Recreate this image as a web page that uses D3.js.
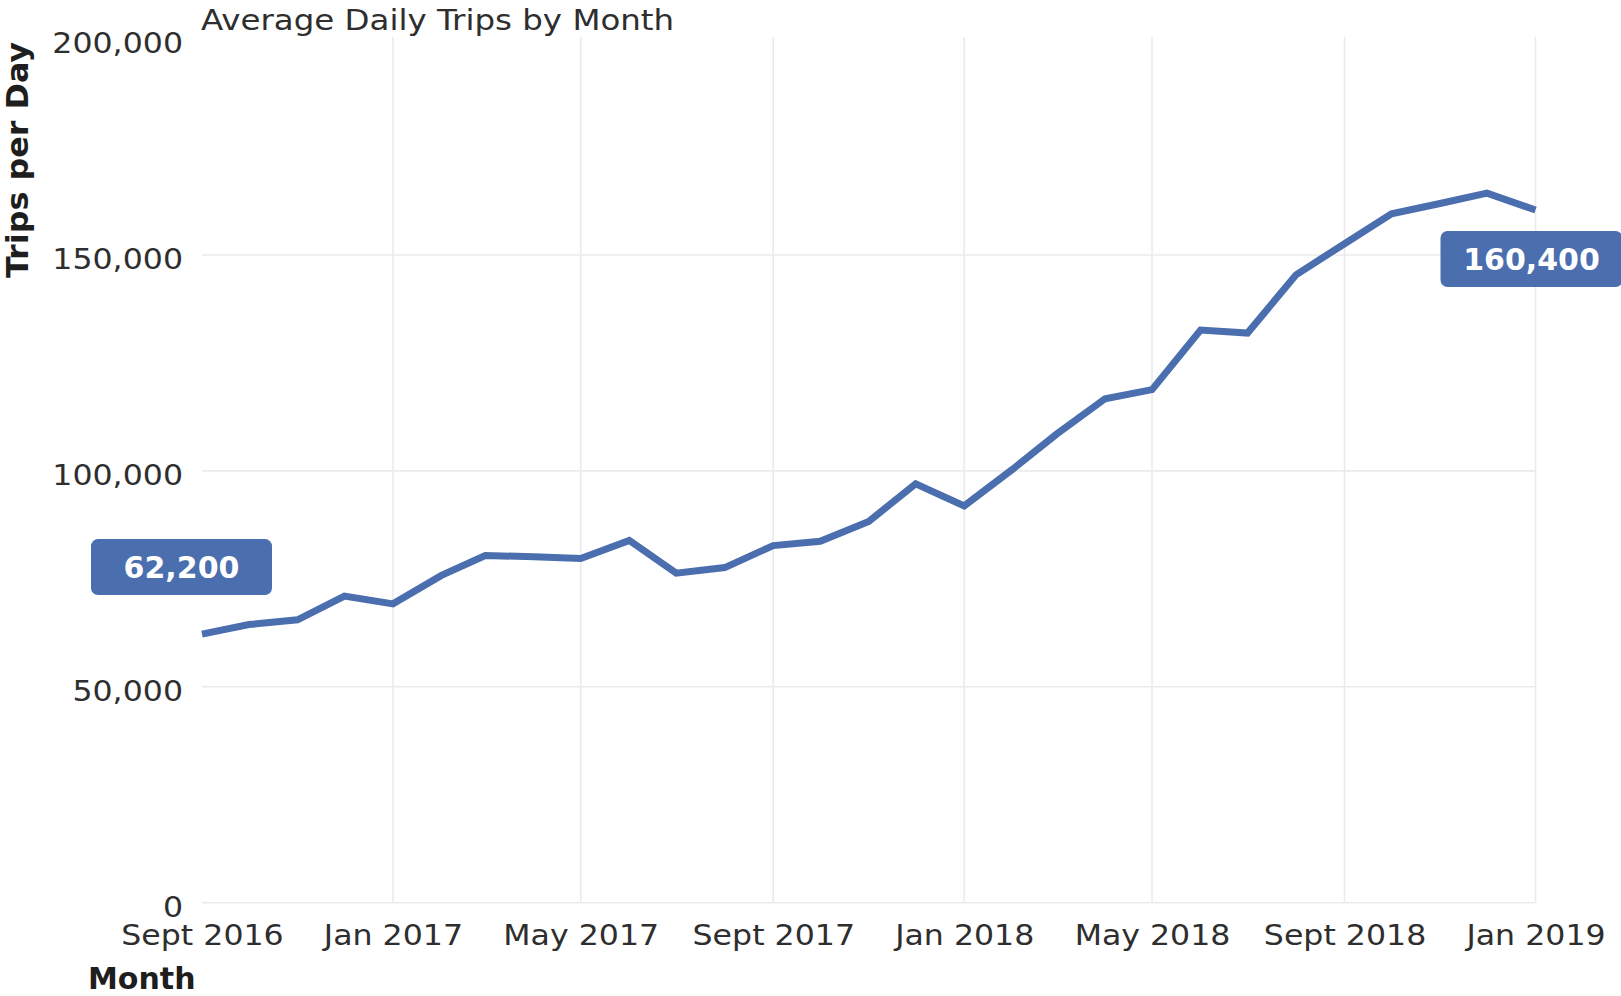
<!DOCTYPE html>
<html>
<head>
<meta charset="utf-8">
<script src="https://cdn.jsdelivr.net/npm/d3@7"></script>
<style>
  html, body { margin: 0; padding: 0; background: #fff; }
  svg { display: block; }
  text { font-family: "DejaVu Sans", sans-serif; }
</style>
</head>
<body>
<svg id="chart" width="1621" height="996"></svg>
<script>
// ---- data ----
const months = ["2016-09","2016-10","2016-11","2016-12","2017-01","2017-02","2017-03","2017-04",
  "2017-05","2017-06","2017-07","2017-08","2017-09","2017-10","2017-11","2017-12","2018-01",
  "2018-02","2018-03","2018-04","2018-05","2018-06","2018-07","2018-08","2018-09","2018-10",
  "2018-11","2018-12","2019-01"];
const tripsPerDay = [62200, 64400, 65500, 71000, 69200, 75800, 80400, 80100,
  79700, 83900, 76300, 77600, 82700, 83700, 88300, 97000, 91900,
  100400, 108500, 116700, 118800, 132600, 131900, 145400, 152600, 159500,
  161900, 164300, 160400];
const xTickMonths = ["2016-09","2017-01","2017-05","2017-09","2018-01","2018-05","2018-09","2019-01"];
const xTickLabels = ["Sept 2016","Jan 2017","May 2017","Sept 2017","Jan 2018","May 2018","Sept 2018","Jan 2019"];
const yTicks = [0, 50000, 100000, 150000, 200000];
const yTickLabels = ["0","50,000","100,000","150,000","200,000"];
const labelMonths = ["2016-09","2019-01"];
const labelValues = [62200, 160400];
const labelTexts = ["62,200","160,400"];

const title = "Average Daily Trips by Month";
const xTitle = "Month";
const yTitle = "Trips per Day";

// ---- setup ----
const parse = d3.timeParse("%Y-%m");
const BLUE = "#4a6eae";
const GRID = "#ebebeb";
const TXT = "#2e2e2e";
const SX = 1.09; // horizontal stretch of regular text

const svg = d3.select("#chart");
const mLeft = 202, mRight = 1535.5, mTop = 39, mBottom = 902.7;

const x = d3.scaleTime()
  .domain([parse(months[0]), parse(months[months.length - 1])])
  .range([mLeft, mRight]);
const y = d3.scaleLinear().domain([0, 200000]).range([mBottom, mTop]);

// gridlines
svg.append("g").selectAll("line")
  .data(xTickMonths.slice(1))
  .join("line")
  .attr("x1", d => x(parse(d))).attr("x2", d => x(parse(d)))
  .attr("y1", y(200000) - 2).attr("y2", y(0))
  .attr("stroke", GRID).attr("stroke-width", 1.6);

svg.append("g").selectAll("line")
  .data(yTicks.filter(d => d < 200000))
  .join("line")
  .attr("x1", mLeft).attr("x2", mRight)
  .attr("y1", d => y(d)).attr("y2", d => y(d))
  .attr("stroke", GRID).attr("stroke-width", 1.6);

// y axis
const yAxis = d3.axisLeft(y).tickValues(yTicks)
  .tickFormat((d, i) => yTickLabels[i]).tickSize(0);
const gy = svg.append("g").attr("transform", `translate(${mLeft},0)`).call(yAxis);
gy.select(".domain").remove();
gy.selectAll("text")
  .attr("x", 0).attr("dy", "0.47em")
  .attr("transform", `translate(-19,0) scale(${SX},1)`)
  .attr("text-anchor", "end")
  .style("font-size", "29px").style("font-family", "DejaVu Sans")
  .attr("fill", TXT);

// x axis
const xAxis = d3.axisBottom(x).tickValues(xTickMonths.map(parse))
  .tickFormat((d, i) => xTickLabels[i]).tickSize(0);
const gx = svg.append("g").attr("transform", `translate(0,${mBottom})`).call(xAxis);
gx.select(".domain").remove();
gx.selectAll("text")
  .attr("y", 0).attr("dy", 0)
  .attr("transform", `translate(0,42.5) scale(${SX},1)`)
  .style("font-size", "29px").style("font-family", "DejaVu Sans")
  .attr("fill", TXT);

// line
const line = d3.line()
  .x((d, i) => x(parse(months[i])))
  .y(d => y(d));
svg.append("path")
  .datum(tripsPerDay)
  .attr("d", line)
  .attr("fill", "none")
  .attr("stroke", BLUE)
  .attr("stroke-width", 7)
  .attr("stroke-linejoin", "miter");

// value labels
const labelOffsets = [[-20.5, -67], [-4, 49]];
const boxW = [181, 182], boxH = 56;
const lg = svg.append("g").selectAll("g")
  .data(labelValues)
  .join("g")
  .attr("transform", (d, i) => `translate(${x(parse(labelMonths[i])) + labelOffsets[i][0]},${y(d) + labelOffsets[i][1]})`);
lg.append("rect")
  .attr("x", (d, i) => -boxW[i] / 2).attr("y", -boxH / 2)
  .attr("width", (d, i) => boxW[i]).attr("height", boxH)
  .attr("rx", 7).attr("fill", BLUE);
lg.append("text")
  .attr("text-anchor", "middle")
  .attr("y", 11)
  .style("font-size", "30px").style("font-weight", "bold")
  .attr("fill", "#fff")
  .text((d, i) => labelTexts[i]);

// title
svg.append("text")
  .attr("transform", `translate(201,30) scale(1.12,1)`)
  .style("font-size", "29px").attr("fill", TXT)
  .text(title);

// axis titles
svg.append("text")
  .attr("x", 88).attr("y", 989)
  .style("font-size", "30px").style("font-weight", "bold").attr("fill", "#1e1e1e")
  .text(xTitle);
svg.append("text")
  .attr("transform", "translate(28,160) rotate(-90) scale(1.06,1)")
  .attr("text-anchor", "middle")
  .style("font-size", "30px").style("font-weight", "bold").attr("fill", "#1e1e1e")
  .text(yTitle);
</script>
</body>
</html>
